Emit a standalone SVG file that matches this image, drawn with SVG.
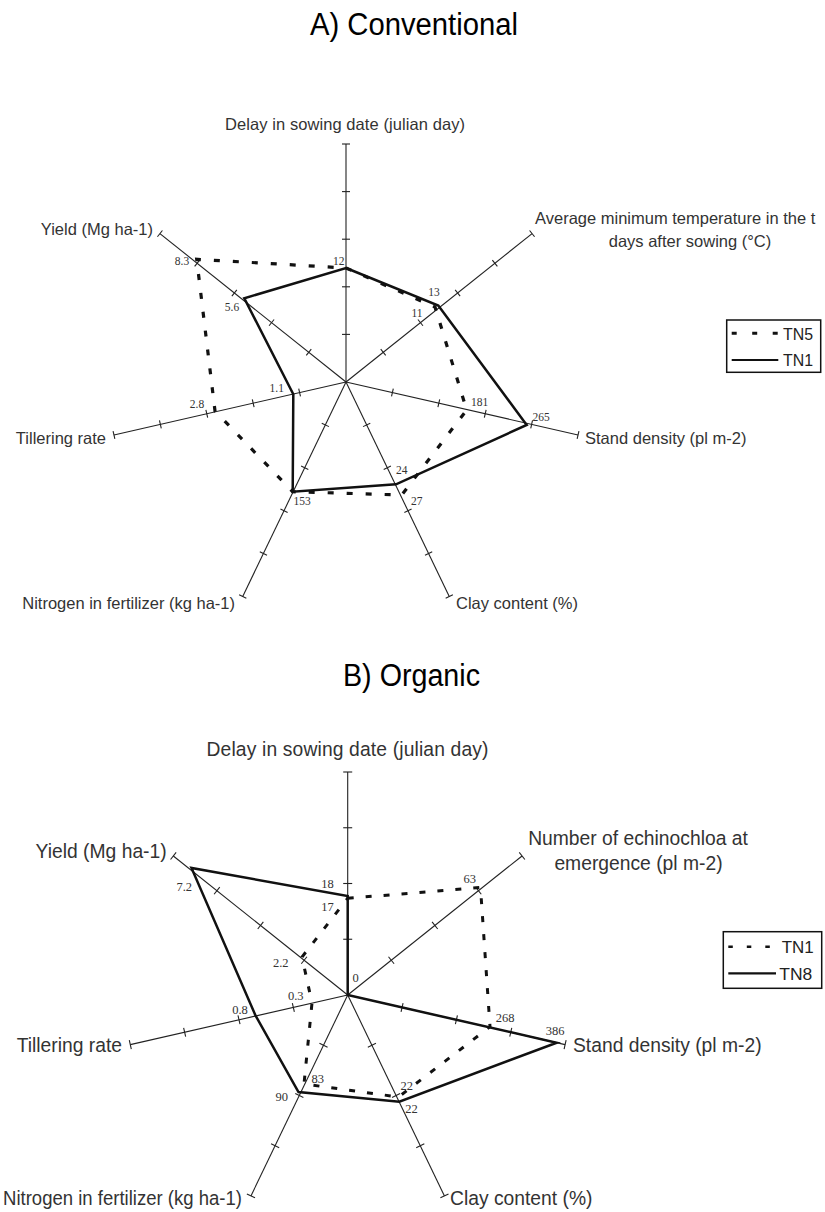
<svg xmlns="http://www.w3.org/2000/svg" xmlns:xlink="http://www.w3.org/1999/xlink" width="825" height="1212" viewBox="0 0 825 1212">
<style>
.title{font-family:"Liberation Sans",Arial,sans-serif;font-size:31px;fill:#000;}
.la{font-family:"Liberation Sans",Arial,sans-serif;font-size:16.5px;fill:#333;}
.lb{font-family:"Liberation Sans",Arial,sans-serif;font-size:19.3px;fill:#333;}
.va{font-family:"Liberation Serif","Times New Roman",serif;font-size:11.5px;fill:#333;text-anchor:middle;}
.vb{font-family:"Liberation Serif","Times New Roman",serif;font-size:12.5px;fill:#333;text-anchor:middle;}
.ax{stroke:#222;stroke-width:1.1;fill:none;}
.solid{stroke:#111;stroke-width:2.5;fill:none;stroke-linejoin:miter;}
.dashA{stroke:#111;stroke-width:3.2;fill:none;stroke-dasharray:6 13;}
.dashB{stroke:#111;stroke-width:3;fill:none;stroke-dasharray:6 12;}
.leg{font-family:"Liberation Sans",Arial,sans-serif;font-size:17px;fill:#222;}
.box{fill:#fff;stroke:#111;stroke-width:1.5;}
</style>
<defs>
<g id="axisA" class="ax">
<line x1="0" y1="0" x2="0" y2="-238"/>
<line x1="-4" y1="-47.6" x2="4" y2="-47.6"/>
<line x1="-4" y1="-95.2" x2="4" y2="-95.2"/>
<line x1="-4" y1="-142.8" x2="4" y2="-142.8"/>
<line x1="-4" y1="-190.4" x2="4" y2="-190.4"/>
<line x1="-4" y1="-238" x2="4" y2="-238"/>
</g>
<g id="axisB" class="ax">
<line x1="0" y1="0" x2="0" y2="-223"/>
<line x1="-4.5" y1="-55.75" x2="4.5" y2="-55.75"/>
<line x1="-4.5" y1="-111.5" x2="4.5" y2="-111.5"/>
<line x1="-4.5" y1="-167.25" x2="4.5" y2="-167.25"/>
<line x1="-4.5" y1="-223" x2="4.5" y2="-223"/>
</g>
</defs>
<rect x="0" y="0" width="825" height="1212" fill="#fff"/>

<g id="chartA">
<text class="title" x="414" y="35" text-anchor="middle" textLength="208" lengthAdjust="spacingAndGlyphs">A) Conventional</text>
<g id="axesA" transform="translate(346,382)">
<use xlink:href="#axisA"/>
<use xlink:href="#axisA" transform="rotate(51.4286)"/>
<use xlink:href="#axisA" transform="rotate(102.857)"/>
<use xlink:href="#axisA" transform="rotate(154.286)"/>
<use xlink:href="#axisA" transform="rotate(205.714)"/>
<use xlink:href="#axisA" transform="rotate(257.143)"/>
<use xlink:href="#axisA" transform="rotate(308.571)"/>
</g>
<g id="axis-labels-A">
<text class="la" x="345" y="129.5" text-anchor="middle" textLength="240">Delay in sowing date (julian day)</text>
<text class="la" x="535" y="223.5">Average minimum temperature in the t</text>
<text class="la" x="690" y="247" text-anchor="middle">days after sowing (°C)</text>
<text class="la" x="585" y="443.5">Stand density (pl m-2)</text>
<text class="la" x="456" y="608.5">Clay content (%)</text>
<text class="la" x="235" y="608.5" text-anchor="end">Nitrogen in fertilizer (kg ha-1)</text>
<text class="la" x="106" y="443.5" text-anchor="end">Tillering rate</text>
<text class="la" x="153" y="235" text-anchor="end">Yield (Mg ha-1)</text>
</g>
<g id="series-A">
<polygon id="A-TN5" class="dashA" points="346,268 435,307 466.7,410 401.7,495 292.7,491.7 215,411 196.7,259.3"/>
<polygon id="A-TN1" class="solid" points="346,268 438.3,305.5 526.7,425 396,484.3 292.7,491.7 293.3,394.3 244.3,298.3"/>
</g>
<g id="values-A">
<text class="va" x="338.8" y="264.5">12</text>
<text class="va" x="434" y="296">13</text>
<text class="va" x="417" y="317">11</text>
<text class="va" x="182" y="265">8.3</text>
<text class="va" x="232" y="310.7">5.6</text>
<text class="va" x="276.7" y="392.3">1.1</text>
<text class="va" x="197" y="407.5">2.8</text>
<text class="va" x="479.5" y="405.7">181</text>
<text class="va" x="541" y="420.7">265</text>
<text class="va" x="401.7" y="474">24</text>
<text class="va" x="416.7" y="505">27</text>
<text class="va" x="302" y="505">153</text>
</g>
<g id="legend-A">
<rect class="box" x="726.7" y="320" width="94" height="52.3"/>
<line x1="731.7" y1="333.3" x2="778.3" y2="333.3" stroke="#111" stroke-width="3" stroke-dasharray="5 15.5"/>
<text class="leg" x="783" y="339.5" textLength="30" lengthAdjust="spacingAndGlyphs">TN5</text>
<line x1="731.7" y1="360" x2="778.3" y2="360" stroke="#111" stroke-width="2.2"/>
<text class="leg" x="783" y="366" textLength="30" lengthAdjust="spacingAndGlyphs">TN1</text>
</g>
</g>

<g id="chartB">
<text class="title" x="411.5" y="686" text-anchor="middle" textLength="137" lengthAdjust="spacingAndGlyphs">B) Organic</text>
<g id="axesB" transform="translate(347.7,995)">
<use xlink:href="#axisB"/>
<use xlink:href="#axisB" transform="rotate(51.4286)"/>
<use xlink:href="#axisB" transform="rotate(102.857)"/>
<use xlink:href="#axisB" transform="rotate(154.286)"/>
<use xlink:href="#axisB" transform="rotate(205.714)"/>
<use xlink:href="#axisB" transform="rotate(257.143)"/>
<use xlink:href="#axisB" transform="rotate(308.571)"/>
</g>
<g id="axis-labels-B">
<text class="lb" x="347.5" y="756" text-anchor="middle" textLength="282">Delay in sowing date (julian day)</text>
<text class="lb" x="638" y="844.5" text-anchor="middle">Number of echinochloa at</text>
<text class="lb" x="638.5" y="869.5" text-anchor="middle">emergence (pl m-2)</text>
<text class="lb" x="573" y="1051.5">Stand density (pl m-2)</text>
<text class="lb" x="450" y="1205">Clay content (%)</text>
<text class="lb" x="242" y="1205" text-anchor="end" textLength="239" lengthAdjust="spacingAndGlyphs">Nitrogen in fertilizer (kg ha-1)</text>
<text class="lb" x="122" y="1051.5" text-anchor="end">Tillering rate</text>
<text class="lb" x="166.7" y="858" text-anchor="end">Yield (Mg ha-1)</text>
</g>
<g id="series-B">
<polygon id="B-TN1" class="dashB" points="347.7,898.3 480.5,887.5 490,1026.7 398.5,1097 304,1084 312,1003 302,957"/>
<polygon id="B-TN8" class="solid" points="347.7,896 347.7,995 556.7,1042.7 399.3,1101.7 298.5,1092 255.5,1015.5 191.5,868"/>
</g>
<g id="values-B">
<text class="vb" x="327.5" y="887.5">18</text>
<text class="vb" x="327.5" y="911">17</text>
<text class="vb" x="469.7" y="882.5">63</text>
<text class="vb" x="184.3" y="891">7.2</text>
<text class="vb" x="280.8" y="966.5">2.2</text>
<text class="vb" x="355.7" y="982">0</text>
<text class="vb" x="295.7" y="999.5">0.3</text>
<text class="vb" x="240" y="1014.3">0.8</text>
<text class="vb" x="505" y="1022">268</text>
<text class="vb" x="555" y="1035">386</text>
<text class="vb" x="317.8" y="1082.5">83</text>
<text class="vb" x="281.7" y="1101">90</text>
<text class="vb" x="406.7" y="1090.3">22</text>
<text class="vb" x="411.5" y="1113.3">22</text>
</g>
<g id="legend-B">
<rect class="box" x="723.3" y="931.7" width="98.4" height="56.6"/>
<line x1="728.3" y1="946.7" x2="770" y2="946.7" stroke="#111" stroke-width="2.5" stroke-dasharray="4.5 14"/>
<text class="leg" x="781.7" y="953" font-size="18" textLength="32" lengthAdjust="spacingAndGlyphs">TN1</text>
<line x1="728.3" y1="973.3" x2="776" y2="973.3" stroke="#111" stroke-width="2.2"/>
<text class="leg" x="779.3" y="979.5" font-size="18" textLength="33" lengthAdjust="spacingAndGlyphs">TN8</text>
</g>
</g>
</svg>
